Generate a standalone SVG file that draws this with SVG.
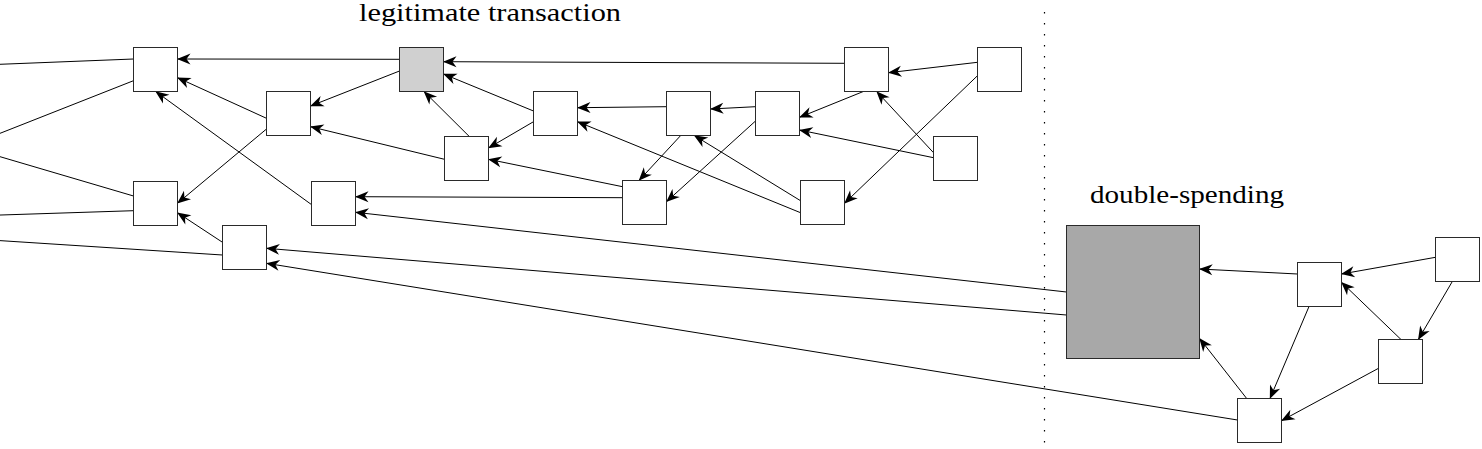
<svg xmlns="http://www.w3.org/2000/svg" width="1482" height="449" viewBox="0 0 1482 449">
<style>
.n{fill:#ffffff;stroke:#2a2a2a;stroke-width:1}
.g1{fill:#d0d0d0}
.g2{fill:#a8a8a8}
.c line{stroke:#000;stroke-width:1}
.c .a{marker-end:url(#ah)}
.t{font-family:"Liberation Serif","Times New Roman",serif;font-size:25px;fill:#000}
.sep{stroke:#000;stroke-width:1.2;stroke-dasharray:1.6 9.4}
</style>
<defs>
<marker id="ah" viewBox="-14 -7 15 14" refX="0" refY="0" markerWidth="15" markerHeight="14" markerUnits="userSpaceOnUse" orient="auto" overflow="visible">
<path d="M0.5,0 L-13,-5.5 L-9,0 L-13,5.5 Z" fill="#000"/>
</marker>
</defs>
<rect width="1482" height="449" fill="#fff"/>
<line class="sep" x1="1044.5" y1="12" x2="1044.5" y2="449"/>
<text class="t" x="359" y="21" textLength="262" lengthAdjust="spacingAndGlyphs">legitimate transaction</text>
<text class="t" x="1090" y="203" textLength="194" lengthAdjust="spacingAndGlyphs">double-spending</text>
<g id="connectors" class="c">
<line x1="-5" y1="64.5" x2="133.5" y2="59"/>
<line x1="-5" y1="135.3" x2="133.5" y2="80.7"/>
<line x1="-5" y1="155.2" x2="133.5" y2="196"/>
<line x1="-5" y1="215.2" x2="133.5" y2="210.7"/>
<line x1="-5" y1="240.3" x2="222.5" y2="255"/>
<line class="a" x1="266.5" y1="118.3" x2="177.5" y2="77.7"/>
<line class="a" x1="311.5" y1="204.6" x2="155.7" y2="91.5"/>
<line class="a" x1="266.5" y1="129" x2="177.5" y2="203.3"/>
<line class="a" x1="222.5" y1="242.3" x2="177.5" y2="212.7"/>
<line class="a" x1="1066.5" y1="292" x2="355.5" y2="212.3"/>
<line class="a" x1="1066.5" y1="315" x2="266.5" y2="248.3"/>
<line class="a" x1="1237.5" y1="420" x2="266.5" y2="263.3"/>
<line class="a" x1="399.5" y1="71" x2="310.5" y2="106"/>
<line class="a" x1="399.5" y1="59.3" x2="177.5" y2="59"/>
<line class="a" x1="844.5" y1="63.3" x2="443.5" y2="61.7"/>
<line class="a" x1="533.5" y1="111" x2="443.5" y2="74"/>
<line class="a" x1="469.3" y1="136.5" x2="424" y2="91.5"/>
<line class="a" x1="444.5" y1="159.3" x2="310.5" y2="126.7"/>
<line class="a" x1="533.5" y1="121.7" x2="488.5" y2="148"/>
<line class="a" x1="622.5" y1="186.7" x2="488.5" y2="159.3"/>
<line class="a" x1="622.5" y1="197.7" x2="355.5" y2="196.7"/>
<line class="a" x1="666.5" y1="106.7" x2="577.5" y2="107.7"/>
<line class="a" x1="800.5" y1="212.7" x2="577.5" y2="121.7"/>
<line class="a" x1="680.7" y1="135.5" x2="639" y2="180.5"/>
<line class="a" x1="755.5" y1="121" x2="666.5" y2="201.7"/>
<line class="a" x1="755.5" y1="106.7" x2="710.5" y2="109"/>
<line class="a" x1="863.3" y1="91.5" x2="799.5" y2="117.3"/>
<line class="a" x1="933.5" y1="157.7" x2="799.5" y2="130"/>
<line class="a" x1="933.5" y1="152.7" x2="876.7" y2="91.5"/>
<line class="a" x1="977.5" y1="62.3" x2="888.5" y2="72.7"/>
<line class="a" x1="977.5" y1="75.7" x2="844.5" y2="203.3"/>
<line class="a" x1="800.5" y1="200.7" x2="694.3" y2="135.5"/>
<line class="a" x1="1297.5" y1="274" x2="1199.5" y2="269"/>
<line class="a" x1="1435.5" y1="257.3" x2="1341.5" y2="274"/>
<line class="a" x1="1452.3" y1="281.5" x2="1418.3" y2="339.5"/>
<line class="a" x1="1401" y1="339.5" x2="1341.5" y2="282.3"/>
<line class="a" x1="1309" y1="306.5" x2="1270" y2="398.5"/>
<line class="a" x1="1246.7" y1="398.5" x2="1199.5" y2="338.3"/>
<line class="a" x1="1378.5" y1="368.3" x2="1281.5" y2="420.7"/>
</g>
<g id="nA"><rect class="n" x="133.5" y="47.5" width="44" height="44"/></g>
<g id="nB"><rect class="n" x="266.5" y="91.5" width="44" height="44"/></g>
<g id="nC"><rect class="n" x="444.5" y="136.5" width="44" height="44"/></g>
<g id="nD"><rect class="n" x="133.5" y="181.5" width="44" height="44"/></g>
<g id="nE"><rect class="n" x="222.5" y="225.5" width="44" height="44"/></g>
<g id="nF"><rect class="n" x="311.5" y="181.5" width="44" height="44"/></g>
<g id="nG"><rect class="n g1" x="399.5" y="47.5" width="44" height="44"/></g>
<g id="nH"><rect class="n" x="533.5" y="91.5" width="44" height="44"/></g>
<g id="nI"><rect class="n" x="622.5" y="180.5" width="44" height="44"/></g>
<g id="nJ"><rect class="n" x="666.5" y="91.5" width="44" height="44"/></g>
<g id="nK"><rect class="n" x="755.5" y="91.5" width="44" height="44"/></g>
<g id="nL"><rect class="n" x="844.5" y="47.5" width="44" height="44"/></g>
<g id="nM"><rect class="n" x="977.5" y="47.5" width="44" height="44"/></g>
<g id="nN"><rect class="n" x="933.5" y="136.5" width="44" height="44"/></g>
<g id="nO"><rect class="n" x="800.5" y="180.5" width="44" height="44"/></g>
<g id="nBig"><rect class="n g2" x="1066.5" y="225.5" width="133" height="133"/></g>
<g id="nP"><rect class="n" x="1297.5" y="262.5" width="44" height="44"/></g>
<g id="nQ"><rect class="n" x="1435.5" y="237.5" width="44" height="44"/></g>
<g id="nR"><rect class="n" x="1378.5" y="339.5" width="44" height="44"/></g>
<g id="nS"><rect class="n" x="1237.5" y="398.5" width="44" height="44"/></g>
</svg>
